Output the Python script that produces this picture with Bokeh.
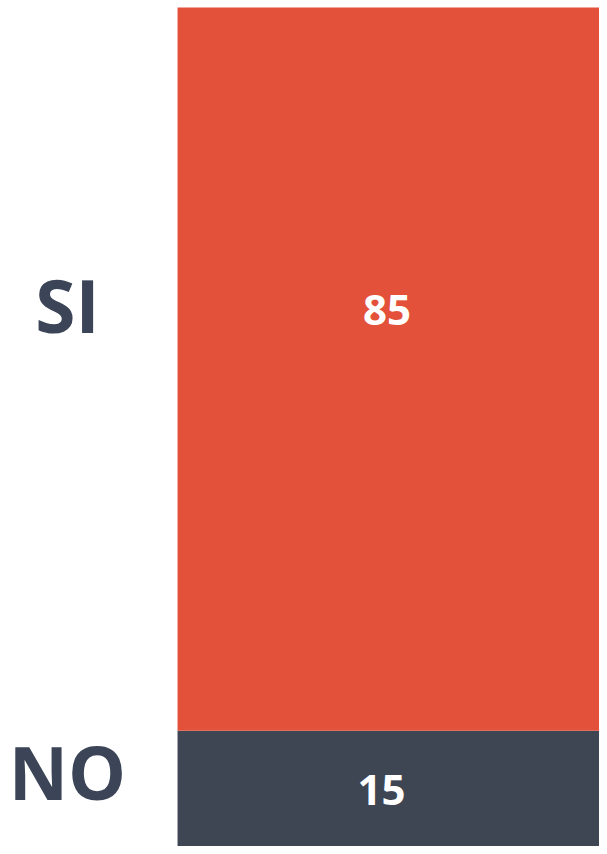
from bokeh.plotting import figure
from bokeh.models import Range1d, ColumnDataSource
from bokeh.core.properties import value
from bokeh.embed import file_html
from bokeh.resources import INLINE

# data
categories = ["NO", "SI"]          # stacking order bottom -> top
values = [15, 85]
bar_colors = ["#3E4553", "#E4513A"]

starts = [sum(values[:i]) for i in range(len(values))]
ends = [s + v for s, v in zip(starts, values)]

p = figure(width=599, height=846, output_backend="svg", toolbar_location=None,
           x_range=Range1d(-0.4116, 0.981), y_range=Range1d(1.41, 100.82),
           min_border=0, outline_line_color=None)
p.axis.visible = False
p.grid.visible = False
p.background_fill_color = "white"
p.border_fill_color = "white"

src = ColumnDataSource(dict(cat=categories, val=values, bottom=starts, top=ends,
                            color=bar_colors))
p.vbar(x=0.5, width=1.0, bottom="bottom", top="top", color="color",
       line_color=None, source=src)

# value labels inside the bar
val_frac = [0.537, 0.582]
val_y = [s + v * f for s, v, f in zip(starts, values, val_frac)]
p.text(x=[0.474, 0.487], y=val_y, text=[str(v) for v in values],
       text_font=value("Open Sans"), text_font_style="bold", text_font_size="42px",
       text_color="white", text_align="center", text_baseline="middle")

# category labels on the left
cat_frac = [0.685, 0.589]
cat_y = [s + v * f for s, v, f in zip(starts, values, cat_frac)]
p.text(x=[-0.256, -0.256], y=cat_y, text=categories,
       text_font=value("Open Sans"), text_font_style="bold", text_font_size="73px",
       text_color="#3B4557", text_align="center", text_baseline="middle")

open("out.html", "w").write(file_html(p, INLINE))
